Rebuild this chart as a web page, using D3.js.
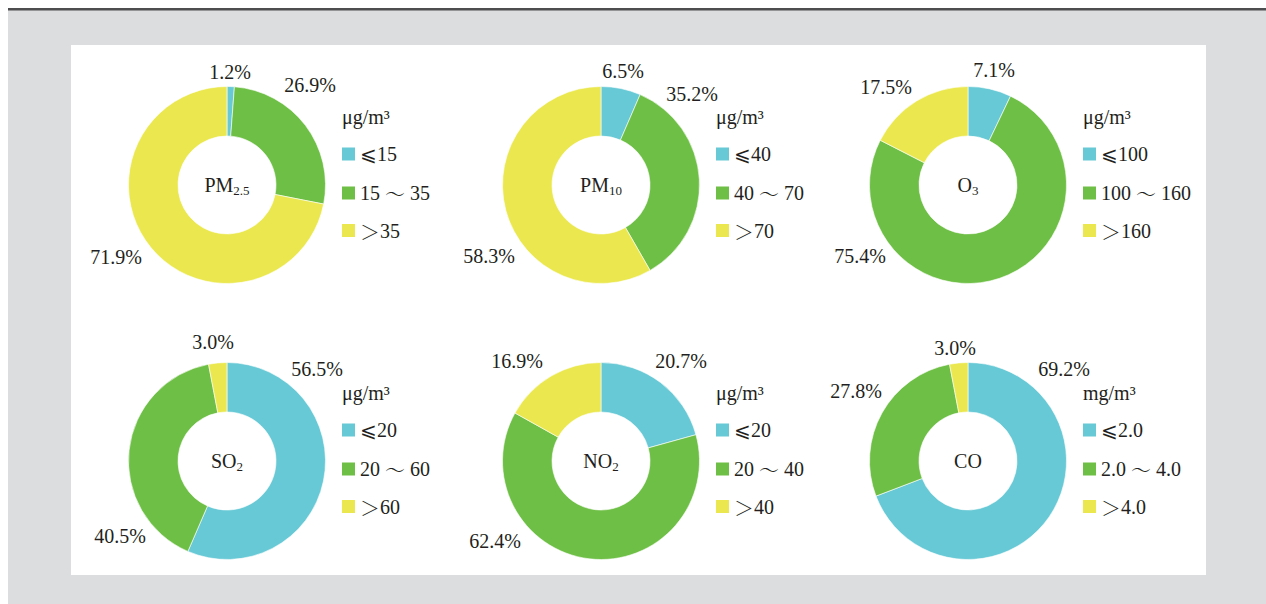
<!DOCTYPE html>
<html><head><meta charset="utf-8">
<script src="https://cdn.jsdelivr.net/npm/d3@7"></script>
<style>
html,body{margin:0;padding:0;background:#fff;}
svg{display:block;}
</style></head>
<body><svg id="c" width="1266" height="604"></svg>
<script>
// ---- data ----
const pollutants = ["PM2.5","PM10","O3","SO2","NO2","CO"];
const titleMain = ["PM","PM","O","SO","NO","CO"];
const titleSub = ["2.5","10","3","2","2",""];
const units = ["μg/m³","μg/m³","μg/m³","μg/m³","μg/m³","mg/m³"];
const shareLow  = [1.2, 6.5, 7.1, 56.5, 20.7, 69.2];
const shareMid  = [26.9, 35.2, 75.4, 40.5, 62.4, 27.8];
const shareHigh = [71.9, 58.3, 17.5, 3.0, 16.9, 3.0];
const legendLow  = ["⩽15","⩽40","⩽100","⩽20","⩽20","⩽2.0"];
const legendMid  = ["15 ～ 35","40 ～ 70","100 ～ 160","20 ～ 60","20 ～ 40","2.0 ～ 4.0"];
const legendHigh = ["＞35","＞70","＞160","＞60","＞40","＞4.0"];

// ---- layout / style (not data) ----
const serif = "Liberation Serif, Times New Roman, serif";
const cjk = "Noto Serif CJK SC, Noto Sans CJK SC, serif";
const colors = ["#67c9d5","#6ebf45","#eae84e"];
const centersX = [227, 601, 968];
const centersY = [185, 461];
// label offsets from donut centre for low, mid, high slice labels
const labelOffsets = [
  [[3,-113],[83,-100],[-111,72]],
  [[22,-114],[91,-91],[-112,71]],
  [[26,-115],[-108,71],[-82,-98]],
  [[90,-92],[-107,75],[-14,-119]],
  [[80,-100],[-106,80],[-84,-100]],
  [[96,-92],[-112,-70],[-13,-113]]
];

const svg = d3.select("#c");
svg.append("rect").attr("x",8).attr("y",10).attr("width",1258).attr("height",594).attr("fill","#dcdddf");
svg.append("rect").attr("x",8).attr("y",8).attr("width",1258).attr("height",2.5).attr("fill","#4d4d4f");
svg.append("rect").attr("x",71).attr("y",45).attr("width",1135).attr("height",530).attr("fill","#fff");

const pie = d3.pie().sort(null).value(d=>d.v);
const arc = d3.arc().innerRadius(49).outerRadius(98.5);
const ink = "#231f20";

function writeMixed(textSel, str){
  // full-width symbols drawn with a CJK face, the rest with the serif face
  const parts = str.split(/([～＞])/).filter(s=>s.length);
  parts.forEach(s=>{
    const sp = textSel.append("tspan").text(s);
    if (s==="～" || s==="＞") sp.attr("font-family",cjk);
  });
}

pollutants.forEach((p,i)=>{
  const cx = centersX[i%3], cy = centersY[Math.floor(i/3)];
  const g = svg.append("g").attr("transform",`translate(${cx},${cy})`);
  const data = [
    {v:shareLow[i], c:colors[0], leg:legendLow[i]},
    {v:shareMid[i], c:colors[1], leg:legendMid[i]},
    {v:shareHigh[i], c:colors[2], leg:legendHigh[i]}
  ];
  const arcs = pie(data);
  g.selectAll("path").data(arcs).enter().append("path")
    .attr("d",arc).attr("fill",d=>d.data.c).attr("stroke","#fff").attr("stroke-width",0.6);
  g.selectAll("text.lbl").data(arcs).enter().append("text").attr("class","lbl")
    .attr("x",(d,k)=>labelOffsets[i][k][0]).attr("y",(d,k)=>labelOffsets[i][k][1])
    .attr("text-anchor","middle").attr("dominant-baseline","central")
    .attr("font-family",serif).attr("font-size",20).attr("fill",ink)
    .text(d=>d.data.v.toFixed(1)+"%");
  // centre title
  const t = g.append("text").attr("text-anchor","middle").attr("y",7)
    .attr("font-family",serif).attr("font-size",20).attr("fill",ink);
  t.append("tspan").text(titleMain[i]);
  if (titleSub[i]) t.append("tspan").attr("dy",3).attr("font-size",13).text(titleSub[i]);
  // legend
  const lx = 115;
  g.append("text").attr("x",lx).attr("y",-68).attr("dominant-baseline","central")
    .attr("font-family",serif).attr("font-size",20).attr("fill",ink).text(units[i]);
  const ly = [-31, 8, 45.5];
  data.forEach((d,k)=>{
    g.append("rect").attr("x",lx).attr("y",ly[k]-6.5).attr("width",13).attr("height",13).attr("fill",d.c);
    const lt = g.append("text").attr("x",lx+18).attr("y",ly[k]).attr("dominant-baseline","central")
      .attr("font-family",serif).attr("font-size",20).attr("fill",ink);
    writeMixed(lt, d.leg);
  });
});
</script></body></html>
